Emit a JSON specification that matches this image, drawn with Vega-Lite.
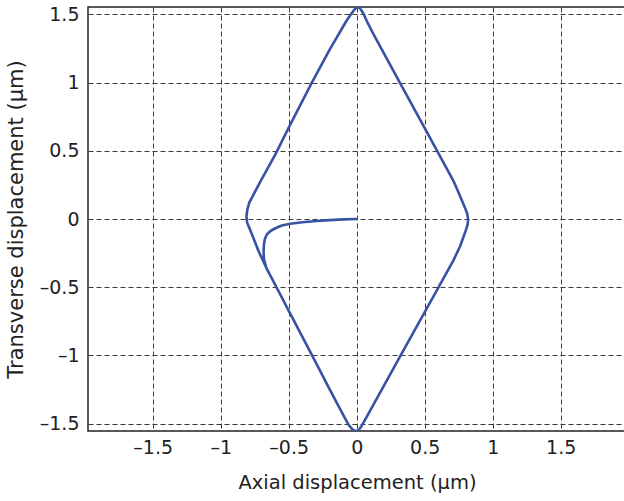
{
  "$schema": "https://vega.github.io/schema/vega-lite/v6.json",
  "autosize": {"type": "none"},
  "width": 538,
  "height": 424,
  "padding": {"left": 88, "top": 7, "right": 0, "bottom": 70},
  "background": "white",
  "config": {
    "view": {"stroke": "#222222", "strokeWidth": 1.5},
    "font": "DejaVu Sans",
    "axis": {
      "labelFont": "DejaVu Sans",
      "titleFont": "DejaVu Sans",
      "labelFontSize": 19,
      "titleFontSize": 21,
      "labelColor": "#222222",
      "titleColor": "#222222",
      "titleFontWeight": "normal",
      "domain": false,
      "ticks": false,
      "grid": true,
      "gridColor": "#3a3a3a",
      "gridDash": [5, 3],
      "gridWidth": 1,
      "gridOpacity": 1
    }
  },
  "data": {
    "values": [
      {"i": 1, "x": 0.0, "y": 0.0},
      {"i": 2, "x": -0.1, "y": -0.003},
      {"i": 3, "x": -0.2, "y": -0.008},
      {"i": 4, "x": -0.294, "y": -0.015},
      {"i": 5, "x": -0.4, "y": -0.024},
      {"i": 6, "x": -0.49, "y": -0.035},
      {"i": 7, "x": -0.55, "y": -0.048},
      {"i": 8, "x": -0.59, "y": -0.064},
      {"i": 9, "x": -0.632, "y": -0.086},
      {"i": 10, "x": -0.66, "y": -0.112},
      {"i": 11, "x": -0.675, "y": -0.145},
      {"i": 12, "x": -0.682, "y": -0.186},
      {"i": 13, "x": -0.685, "y": -0.24},
      {"i": 14, "x": -0.682, "y": -0.296},
      {"i": 15, "x": -0.665, "y": -0.358},
      {"i": 16, "x": -0.58, "y": -0.52},
      {"i": 17, "x": -0.493, "y": -0.687},
      {"i": 18, "x": -0.335, "y": -0.988},
      {"i": 19, "x": -0.193, "y": -1.26},
      {"i": 20, "x": -0.123, "y": -1.393},
      {"i": 21, "x": -0.06, "y": -1.51},
      {"i": 22, "x": -0.03, "y": -1.545},
      {"i": 23, "x": -0.008, "y": -1.556},
      {"i": 24, "x": 0.012, "y": -1.55},
      {"i": 25, "x": 0.035, "y": -1.52},
      {"i": 26, "x": 0.06, "y": -1.475},
      {"i": 27, "x": 0.122, "y": -1.363},
      {"i": 28, "x": 0.318, "y": -1.01},
      {"i": 29, "x": 0.502, "y": -0.679},
      {"i": 30, "x": 0.6, "y": -0.503},
      {"i": 31, "x": 0.71, "y": -0.305},
      {"i": 32, "x": 0.76, "y": -0.2},
      {"i": 33, "x": 0.8, "y": -0.09},
      {"i": 34, "x": 0.816, "y": -0.04},
      {"i": 35, "x": 0.819, "y": 0.0},
      {"i": 36, "x": 0.812, "y": 0.04},
      {"i": 37, "x": 0.795, "y": 0.085},
      {"i": 38, "x": 0.755, "y": 0.18},
      {"i": 39, "x": 0.71, "y": 0.282},
      {"i": 40, "x": 0.6, "y": 0.483},
      {"i": 41, "x": 0.502, "y": 0.663},
      {"i": 42, "x": 0.33, "y": 0.977},
      {"i": 43, "x": 0.122, "y": 1.358},
      {"i": 44, "x": 0.075, "y": 1.45},
      {"i": 45, "x": 0.045, "y": 1.515},
      {"i": 46, "x": 0.022, "y": 1.548},
      {"i": 47, "x": 0.005, "y": 1.554},
      {"i": 48, "x": -0.012, "y": 1.542},
      {"i": 49, "x": -0.04, "y": 1.505},
      {"i": 50, "x": -0.074, "y": 1.456},
      {"i": 51, "x": -0.2, "y": 1.24},
      {"i": 52, "x": -0.331, "y": 0.998},
      {"i": 53, "x": -0.503, "y": 0.665},
      {"i": 54, "x": -0.6, "y": 0.47},
      {"i": 55, "x": -0.711, "y": 0.27},
      {"i": 56, "x": -0.79, "y": 0.12},
      {"i": 57, "x": -0.804, "y": 0.07},
      {"i": 58, "x": -0.811, "y": 0.015},
      {"i": 59, "x": -0.805, "y": -0.03},
      {"i": 60, "x": -0.785, "y": -0.076},
      {"i": 61, "x": -0.72, "y": -0.24},
      {"i": 62, "x": -0.665, "y": -0.358},
      {"i": 63, "x": -0.6, "y": -0.482}
    ]
  },
  "mark": {"type": "line", "color": "#3953a4", "strokeWidth": 2.6, "clip": true, "interpolate": "linear", "strokeJoin": "round", "strokeCap": "round"},
  "encoding": {
    "order": {"field": "i", "type": "quantitative"},
    "x": {
      "field": "x",
      "type": "quantitative",
      "scale": {"domain": [-1.976, 1.98], "nice": false, "zero": false},
      "axis": {
        "title": "Axial displacement (μm)",
        "titleFontSize": 19.5,
        "values": [-1.5, -1, -0.5, 0, 0.5, 1, 1.5],
        "labelExpr": "datum.value < 0 ? '–' + format(-datum.value, '~g') : format(datum.value, '~g')",
        "labelPadding": 7,
        "titlePadding": 16
      }
    },
    "y": {
      "field": "y",
      "type": "quantitative",
      "scale": {"domain": [-1.555, 1.555], "nice": false, "zero": false},
      "axis": {
        "title": "Transverse displacement (μm)",
        "values": [-1.5, -1, -0.5, 0, 0.5, 1, 1.5],
        "labelExpr": "datum.value < 0 ? '–' + format(-datum.value, '~g') : format(datum.value, '~g')",
        "labelPadding": 9,
        "titlePadding": 13
      }
    }
  }
}
